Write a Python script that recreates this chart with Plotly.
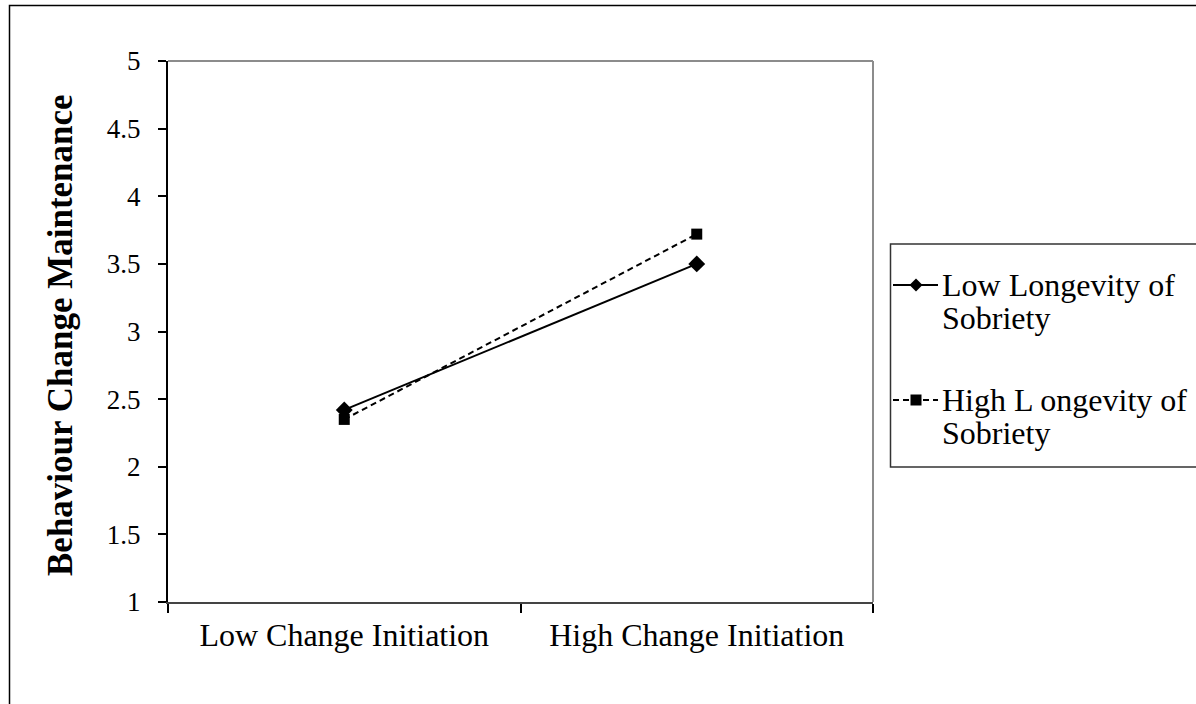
import plotly.graph_objects as go

# Interaction plot: maintenance by change initiation, split by longevity of sobriety
categories = ["Low Change Initiation", "High Change Initiation"]
low_longevity = [2.42, 3.50]
high_longevity = [2.35, 3.72]
legend_lines = [["Low Longevity of", "Sobriety"], ["High L ongevity of", "Sobriety"]]
y_title = "Behaviour Change Maintenance"

W, H = 1196, 704
L, R, T, B = 168, 323, 61, 102
pw, ph = W - L - R, H - T - B


def px_x(p):
    return (p - L) / pw


def px_y(p):
    return (H - B - p) / ph


FONT = "Liberation Serif, Times New Roman, serif"
DASH = "6px,4px"

fig = go.Figure()
fig.add_trace(go.Scatter(
    x=categories, y=low_longevity, mode="lines+markers", showlegend=False,
    line=dict(color="black", width=2),
    marker=dict(symbol="diamond", size=13, color="black"),
))
fig.add_trace(go.Scatter(
    x=categories, y=high_longevity, mode="lines+markers", showlegend=False,
    line=dict(color="black", width=2, dash=DASH),
    marker=dict(symbol="square", size=11, color="black"),
))

shapes = [
    # top and right frame of the plot area
    dict(type="line", xref="paper", yref="paper", x0=0, x1=1, y0=1, y1=1,
         line=dict(color="#8c8c8c", width=2)),
    dict(type="line", xref="paper", yref="paper", x0=1, x1=1, y0=0, y1=1,
         line=dict(color="#8c8c8c", width=2)),
    # outer chart border
    dict(type="rect", xref="paper", yref="paper",
         x0=px_x(9.5), x1=px_x(1210), y0=px_y(720), y1=px_y(5.5),
         line=dict(color="black", width=1.5), fillcolor="rgba(0,0,0,0)", layer="below"),
    # legend frame
    dict(type="rect", xref="paper", yref="paper",
         x0=px_x(890.5), x1=px_x(1210), y0=px_y(467), y1=px_y(244),
         line=dict(color="#333333", width=1.5), fillcolor="white", layer="below"),
]

annotations = []
key_x0, key_x1, key_mid, text_x = 893, 938, 916, 940
key_rows = [285, 400]
line_gap = 33
for i, (row_y, lines) in enumerate(zip(key_rows, legend_lines)):
    shapes.append(dict(
        type="line", xref="paper", yref="paper",
        x0=px_x(key_x0), x1=px_x(key_x1), y0=px_y(row_y), y1=px_y(row_y),
        line=dict(color="black", width=2, dash="solid" if i == 0 else DASH),
    ))
    if i == 0:
        r = 6.5
        path = (f"M {px_x(key_mid - r)} {px_y(row_y)} L {px_x(key_mid)} {px_y(row_y - r)} "
                f"L {px_x(key_mid + r)} {px_y(row_y)} L {px_x(key_mid)} {px_y(row_y + r)} Z")
        shapes.append(dict(type="path", xref="paper", yref="paper", path=path,
                           fillcolor="black", line=dict(color="black", width=0)))
    else:
        r = 5.5
        shapes.append(dict(type="rect", xref="paper", yref="paper",
                           x0=px_x(key_mid - r), x1=px_x(key_mid + r),
                           y0=px_y(row_y + r), y1=px_y(row_y - r),
                           fillcolor="black", line=dict(color="black", width=0)))
    for j, txt in enumerate(lines):
        annotations.append(dict(
            text=txt, xref="paper", yref="paper", showarrow=False,
            x=px_x(text_x), y=px_y(row_y + j * line_gap), xanchor="left", yanchor="middle",
            font=dict(family=FONT, size=32, color="black"),
        ))

annotations.append(dict(
    text=f"<b>{y_title}</b>", xref="paper", yref="paper", showarrow=False,
    x=px_x(60), y=px_y(335), xanchor="center", yanchor="middle", textangle=-90,
    font=dict(family=FONT, size=35, color="black"),
))

fig.update_layout(
    width=W, height=H, autosize=False,
    margin=dict(l=L, r=R, t=T, b=B),
    paper_bgcolor="white", plot_bgcolor="white",
    font=dict(family=FONT, size=26, color="black"),
    showlegend=False,
    shapes=shapes,
    annotations=annotations,
    xaxis=dict(
        type="category", range=[-0.5, 1.5], tickson="boundaries",
        ticks="outside", ticklen=9, tickcolor="black", tickwidth=1.5,
        showline=True, linecolor="#444444", linewidth=2,
        showgrid=False, zeroline=False,
        tickfont=dict(family=FONT, size=32),
        ticklabelstandoff=4,
    ),
    yaxis=dict(
        range=[1, 5], dtick=0.5, tick0=1,
        ticks="outside", ticklen=8, tickcolor="black", tickwidth=1.5,
        showline=True, linecolor="black", linewidth=2,
        showgrid=False, zeroline=False,
        tickfont=dict(family=FONT, size=27),
        ticklabelstandoff=12,
    ),
)

fig.write_html("out.html")
